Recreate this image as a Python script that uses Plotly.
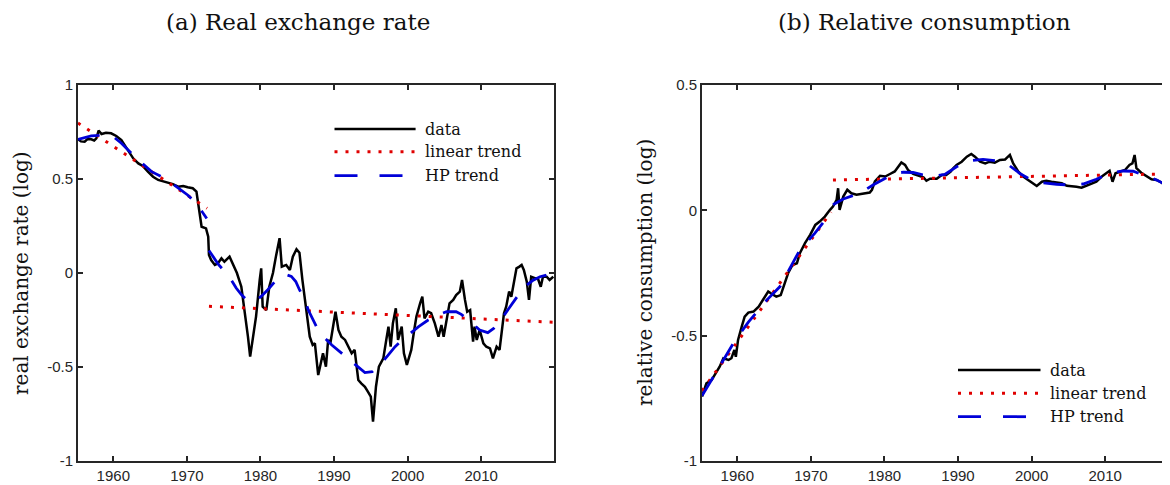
import plotly.graph_objects as go

# ---------------- data ----------------
rer_years = [1955.2, 1955.6, 1956.1, 1956.5, 1957.0, 1957.4, 1957.7, 1958.0, 1958.4, 1959.0,
             1959.7, 1960.4, 1961.1, 1961.5, 1962.0, 1962.7, 1963.4, 1964.0, 1964.7, 1965.4,
             1966.1, 1966.7, 1967.4, 1968.1, 1968.8, 1969.5, 1970.1, 1970.8, 1971.3, 1971.6,
             1972.0, 1972.6, 1972.9, 1973.0, 1973.3, 1973.8, 1974.2, 1974.7, 1975.1, 1975.8,
             1976.3, 1976.8, 1977.4, 1977.8, 1978.3, 1978.6, 1979.0, 1979.4, 1979.9, 1980.1,
             1980.3, 1980.8, 1981.2, 1981.7, 1982.1, 1982.6, 1982.9, 1983.5, 1984.0, 1984.4,
             1984.9, 1985.3, 1985.7, 1986.0, 1986.4, 1986.7, 1987.1, 1987.4, 1987.85, 1988.2,
             1988.5, 1988.9, 1989.2, 1989.5, 1989.9, 1990.2, 1990.6, 1991.0, 1991.5, 1992.0,
             1992.4, 1992.8, 1993.3, 1993.7, 1994.2, 1994.6, 1995.0, 1995.3, 1995.7, 1996.1,
             1996.7, 1997.1, 1997.4, 1997.7, 1998.0, 1998.4, 1998.7, 1999.2, 1999.5, 1999.9,
             2000.2, 2000.5, 2000.9, 2001.2, 2001.7, 2002.0, 2002.3, 2002.8, 2003.2, 2003.7,
             2004.2, 2004.6, 2004.9, 2005.3, 2005.7, 2006.2, 2006.6, 2007.1, 2007.4, 2007.8,
             2008.1, 2008.5, 2008.7, 2008.9, 2009.1, 2009.4, 2009.8, 2010.3, 2010.7, 2011.2,
             2011.6, 2012.1, 2012.5, 2012.8, 2013.1, 2013.4, 2013.8, 2014.1, 2014.4, 2014.8,
             2015.2, 2015.5, 2015.8, 2016.2, 2016.5, 2016.8, 2017.3, 2017.7, 2018.1, 2018.4,
             2018.9, 2019.3, 2019.8]
rer_values = [0.711, 0.700, 0.698, 0.712, 0.711, 0.705, 0.716, 0.757, 0.739, 0.746,
              0.743, 0.729, 0.707, 0.681, 0.654, 0.610, 0.583, 0.569, 0.539, 0.512,
              0.495, 0.489, 0.480, 0.473, 0.459, 0.463, 0.456, 0.451, 0.433, 0.353,
              0.246, 0.237, 0.193, 0.096, 0.069, 0.043, 0.051, 0.078, 0.060, 0.087,
              0.043, 0.000, -0.073, -0.179, -0.338, -0.445, -0.338, -0.232, -0.037, 0.025,
              -0.179, -0.197, -0.073, 0.000, 0.087, 0.185, 0.034, 0.043, 0.016, 0.087,
              0.126, 0.108, -0.037, -0.126, -0.250, -0.339, -0.383, -0.374, -0.543, -0.480,
              -0.427, -0.498, -0.356, -0.374, -0.285, -0.206, -0.303, -0.339, -0.356, -0.392,
              -0.427, -0.409, -0.569, -0.587, -0.605, -0.631, -0.658, -0.790, -0.605, -0.498,
              -0.454, -0.356, -0.285, -0.392, -0.268, -0.188, -0.356, -0.285, -0.427, -0.489,
              -0.445, -0.409, -0.303, -0.232, -0.161, -0.126, -0.241, -0.206, -0.214, -0.268,
              -0.339, -0.277, -0.339, -0.241, -0.161, -0.143, -0.117, -0.099, -0.037, -0.143,
              -0.206, -0.197, -0.268, -0.365, -0.285, -0.356, -0.303, -0.374, -0.392, -0.401,
              -0.454, -0.392, -0.409, -0.303, -0.214, -0.179, -0.099, -0.126, -0.055, 0.025,
              0.034, 0.043, 0.016, -0.046, -0.143, -0.020, -0.028, -0.028, -0.073, -0.020,
              -0.020, -0.037, -0.020]

rer_lin_years = [1955.2, 1972.75, None, 1973.0, 2019.9]
rer_lin_values = [0.798, 0.344, None, -0.177, -0.262]

rer_hp_years = [1955.2, 1957.0, 1958.6, 1960.0, 1961.1, 1962.3, 1963.4, 1965.2, 1967.0, 1968.3,
                1970.1, 1971.2, 1972.2, 1972.7, None, 1973.0, 1973.3, 1974.2, 1975.1, 1976.0,
                1976.7, 1977.4, 1978.1, 1978.7, 1979.2, 1980.1, 1981.0, 1981.7, 1982.4, 1983.5,
                1984.2, 1984.8, 1985.3, 1986.0, 1986.5, 1987.6, 1988.6, 1989.7, 1990.7, 1991.7,
                1993.0, 1994.2, 1995.2, 1996.2, 1997.3, 1998.3, 1999.3, 2000.3, 2001.5, 2002.8,
                2004.0, 2005.3, 2006.6, 2007.3, 2008.0, 2009.0, 2009.8, 2010.9, 2011.7, 2012.5,
                2013.2, 2013.9, 2015.0, 2015.9, 2017.0, 2018.0, 2019.8]
rer_hp_values = [0.711, 0.729, 0.734, 0.725, 0.690, 0.645, 0.601, 0.539, 0.504, 0.468,
                 0.415, 0.375, 0.317, 0.290, None, 0.120, 0.104, 0.050, 0.009, -0.035,
                 -0.080, -0.115, -0.142, -0.152, -0.151, -0.125, -0.089, -0.055, -0.027, -0.009,
                 -0.018, -0.045, -0.089, -0.140, -0.197, -0.285, -0.340, -0.383, -0.415, -0.445,
                 -0.490, -0.530, -0.525, -0.489, -0.440, -0.392, -0.355, -0.321, -0.285, -0.250,
                 -0.225, -0.206, -0.206, -0.220, -0.241, -0.275, -0.303, -0.317, -0.295, -0.259,
                 -0.220, -0.179, -0.120, -0.073, -0.040, -0.020, -0.002]

cons_years = [1955.2, 1955.8, 1956.5, 1957.2, 1957.6, 1958.1, 1958.8, 1959.2, 1959.6, 1959.8,
              1960.1, 1960.6, 1961.0, 1961.5, 1962.2, 1962.9, 1963.5, 1964.2, 1964.7, 1965.3,
              1965.9, 1966.3, 1966.9, 1967.5, 1968.1, 1968.5, 1969.2, 1969.9, 1970.6, 1971.2,
              1971.9, 1972.6, 1973.0, 1973.5, 1973.7, 1973.9, 1974.4, 1974.95, 1975.5, 1976.2,
              1976.9, 1977.6, 1978.0, 1978.3, 1978.7, 1979.4, 1980.1, 1980.75, 1981.4, 1981.9,
              1982.3, 1982.8, 1983.2, 1983.9, 1984.6, 1985.3, 1985.7, 1986.2, 1987.1, 1987.8,
              1988.4, 1989.0, 1989.35, 1989.8, 1990.5, 1991.2, 1991.8, 1992.3, 1993.0, 1993.7,
              1994.3, 1995.0, 1995.7, 1996.4, 1996.8, 1997.05, 1997.5, 1998.2, 1998.9, 1999.5,
              2000.2, 2000.7, 2001.4, 2002.0, 2002.7, 2003.4, 2004.1, 2004.8, 2005.4, 2006.1,
              2006.8, 2007.5, 2008.1, 2008.8, 2009.5, 2010.2, 2010.6, 2011.0, 2011.4, 2012.0,
              2012.7, 2013.3, 2013.7, 2014.0, 2014.25, 2014.9, 2015.6, 2016.3, 2016.98, 2017.7,
              2018.3, 2018.8, 2019.5]
cons_values = [-0.743, -0.690, -0.677, -0.644, -0.624, -0.590, -0.597, -0.590, -0.557, -0.584,
               -0.517, -0.464, -0.424, -0.408, -0.404, -0.384, -0.358, -0.324, -0.334, -0.344,
               -0.338, -0.304, -0.251, -0.218, -0.211, -0.171, -0.131, -0.098, -0.058, -0.045,
               -0.025, 0.002, 0.015, 0.042, 0.088, 0.002, 0.055, 0.082, 0.068, 0.062,
               0.066, 0.068, 0.071, 0.082, 0.115, 0.138, 0.135, 0.145, 0.155, 0.175,
               0.191, 0.181, 0.161, 0.145, 0.138, 0.132, 0.118, 0.126, 0.126, 0.141,
               0.141, 0.154, 0.168, 0.181, 0.194, 0.214, 0.225, 0.214, 0.194, 0.187,
               0.194, 0.190, 0.201, 0.203, 0.214, 0.221, 0.187, 0.154, 0.134, 0.121,
               0.108, 0.097, 0.114, 0.118, 0.114, 0.110, 0.108, 0.098, 0.097, 0.094,
               0.090, 0.098, 0.105, 0.114, 0.134, 0.148, 0.158, 0.114, 0.148, 0.154,
               0.161, 0.181, 0.187, 0.221, 0.168, 0.150, 0.137, 0.124, 0.121, 0.110,
               0.097, 0.092, 0.085]

cons_lin_years = [1955.2, 1972.75, None, 1973.0, 2019.9]
cons_lin_values = [-0.720, -0.007, None, 0.121, 0.146]

cons_hp_years = [1955.2, 1957.2, 1959.7, 1961.5, 1964.0, 1965.8, 1967.2, 1968.5, 1970.55, 1971.9,
                 1972.7, None, 1973.0, 1974.4, 1976.0, 1977.3, 1978.5, 1979.8, 1981.4, 1982.6,
                 1983.9, 1985.2, 1986.2, 1987.1, 1988.2, 1989.8, 1991.6, 1993.4, 1995.2, 1997.05,
                 1998.4, 1999.8, 2001.6, 2003.4, 2005.2, 2007.0, 2008.8, 2010.6, 2012.45, 2013.8,
                 2015.2, 2017.0, 2018.8, 2019.8]
cons_hp_values = [-0.740, -0.640, -0.519, -0.446, -0.358, -0.304, -0.230, -0.158, -0.091, -0.038,
                  -0.010, None, 0.022, 0.045, 0.062, 0.080, 0.102, 0.124, 0.148, 0.152,
                  0.151, 0.142, 0.137, 0.138, 0.143, 0.174, 0.198, 0.203, 0.198, 0.177,
                  0.147, 0.124, 0.110, 0.104, 0.101, 0.105, 0.124, 0.148, 0.157, 0.156,
                  0.141, 0.121, 0.094, 0.085]

year_ticks = [1960, 1970, 1980, 1990, 2000, 2010]
year_labels = ["1960", "1970", "1980", "1990", "2000", "2010"]
rer_ticks = [-1, -0.5, 0, 0.5, 1]
rer_tick_labels = ["-1", "-0.5", "0", "0.5", "1"]
cons_ticks = [-1, -0.5, 0, 0.5]
cons_tick_labels = ["-1", "-0.5", "0", "0.5"]

series_names = ["data", "linear trend", "HP trend"]
panel_titles = ["(a) Real exchange rate", "(b) Relative consumption"]
y_titles = ["real exchange rate (log)", "relative consumption (log)"]

# ---------------- styles / geometry ----------------
# the page body adds an 8px offset; the figure is sized so it ends at the window edge
OFF = 8
W, H = 1170 - OFF, 485 - OFF
ML, MR, MT, MB = 78 - OFF, 0, 85 - OFF, 24
PW, PH = W - ML - MR, H - MT - MB


def fx(p):
    """reference-screen x pixel -> paper coordinate"""
    return (p - OFF - ML) / PW


def fy(p):
    """reference-screen y pixel -> paper coordinate"""
    return (H - MB - (p - OFF)) / PH


AX = "#262626"
BLACK = "#000000"
RED = "#e00000"
BLUE = "#0000d8"
SERIF = "DejaVu Serif"
SANS = "Liberation Sans"

styles = [
    dict(color=BLACK, width=2.5),
    dict(color=RED, width=3, dash="3px,8px"),
    dict(color=BLUE, width=2.8, dash="22px,16px"),
]

x_lo = 1955.2
x_hi_left = 2019.9
yr_per_px = (x_hi_left - x_lo) / (554 - 78)
x_hi_right = x_lo + (1170 - 702) * yr_per_px

fig = go.Figure()
panels = [
    ("x", "y", (rer_years, rer_values), (rer_lin_years, rer_lin_values), (rer_hp_years, rer_hp_values)),
    ("x2", "y2", (cons_years, cons_values), (cons_lin_years, cons_lin_values), (cons_hp_years, cons_hp_values)),
]
for xa, ya, d, lin, hp in panels:
    for (xs, ys), st, nm in zip([d, lin, hp], styles, series_names):
        fig.add_trace(go.Scatter(x=xs, y=ys, mode="lines", line=st, name=nm,
                                 xaxis=xa, yaxis=ya, showlegend=False,
                                 connectgaps=False, hoverinfo="skip"))

common_axis = dict(showline=True, linewidth=2, linecolor=AX, ticks="inside", ticklen=5,
                   tickwidth=1.5, tickcolor=AX, showgrid=False, zeroline=False,
                   tickfont=dict(family=SANS, size=15, color=AX))

fig.update_layout(
    width=W, height=H,
    margin=dict(l=ML, r=MR, t=MT, b=MB),
    plot_bgcolor="white", paper_bgcolor="white",
    showlegend=False,
    xaxis=dict(domain=[0, fx(554)], range=[x_lo, x_hi_left], tickvals=year_ticks,
               ticktext=year_labels, mirror="ticks", anchor="y", **common_axis),
    yaxis=dict(domain=[0, 1], range=[-1, 1], tickvals=rer_ticks, ticktext=rer_tick_labels,
               mirror="ticks", anchor="x", **common_axis),
    xaxis2=dict(domain=[fx(702), 1], range=[x_lo, x_hi_right], tickvals=year_ticks,
                ticktext=year_labels, mirror="ticks", anchor="y2", **common_axis),
    yaxis2=dict(domain=[0, 1], range=[-1, 0.5], tickvals=cons_ticks, ticktext=cons_tick_labels,
                mirror=False, anchor="x2", **common_axis),
)

annotations = []
# panel titles
for txt, cx in zip(panel_titles, [298, 924]):
    annotations.append(dict(text=txt, x=fx(cx), y=fy(22), xref="paper", yref="paper",
                            showarrow=False, xanchor="center", yanchor="middle",
                            font=dict(family=SERIF, size=23, color="#111111")))
# y-axis titles
for txt, cx in zip(y_titles, [21, 645]):
    annotations.append(dict(text=txt, x=fx(cx), y=fy(273), xref="paper", yref="paper",
                            showarrow=False, textangle=-90, xanchor="center", yanchor="middle",
                            font=dict(family=SERIF, size=20, color="#111111")))

# legends (drawn as samples + labels)
shapes = []
legend_specs = [
    dict(x0=334.5, x1=415.6, tx=423, ys=[129, 151.7, 175.7]),
    dict(x0=958, x1=1040.5, tx=1047.5, ys=[370, 393.3, 416.7]),
]
legend_dashes = [None, "3px,8px", "23px,22px"]
for spec in legend_specs:
    for st, dsh, nm, yy in zip(styles, legend_dashes, series_names, spec["ys"]):
        line = dict(color=st["color"], width=st["width"])
        if dsh:
            line["dash"] = dsh
        shapes.append(dict(type="line", xref="paper", yref="paper",
                           x0=fx(spec["x0"]), x1=fx(spec["x1"]), y0=fy(yy), y1=fy(yy),
                           line=line))
        annotations.append(dict(text=nm, x=fx(spec["tx"]), y=fy(yy), xref="paper", yref="paper",
                                showarrow=False, xanchor="left", yanchor="middle",
                                font=dict(family=SERIF, size=16, color="#111111")))

fig.update_layout(annotations=annotations, shapes=shapes)

fig.write_html("out.html")
